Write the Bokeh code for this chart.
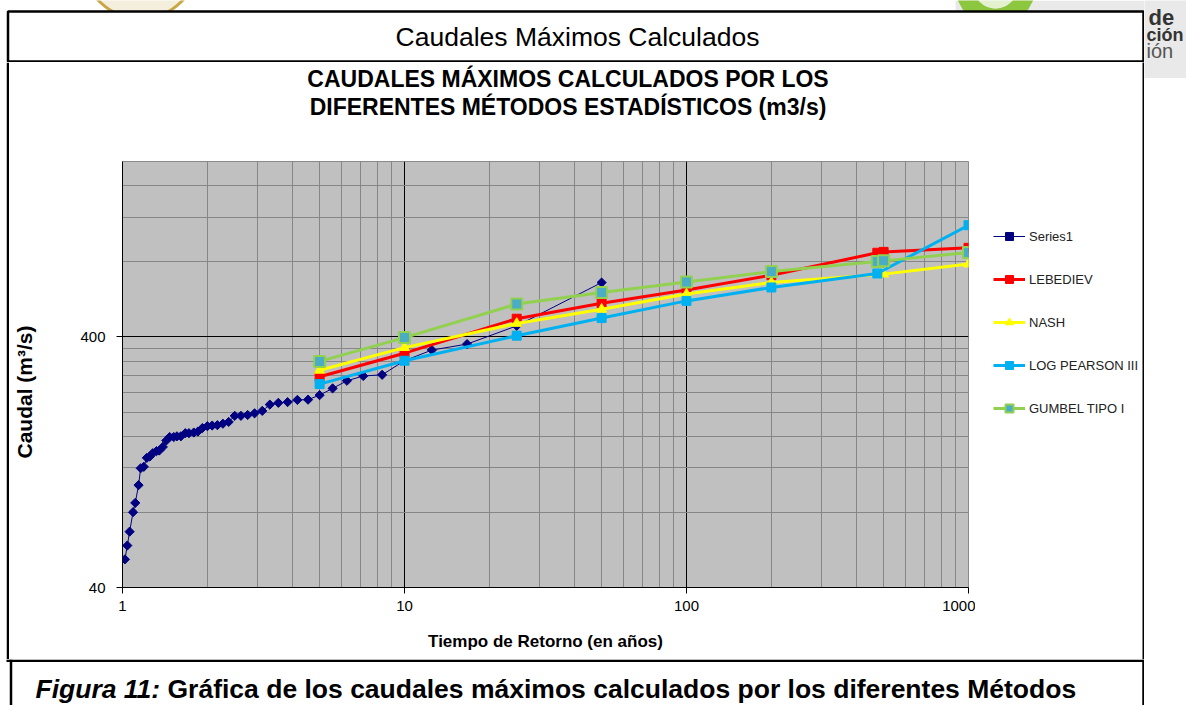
import numpy as np
from bokeh.plotting import figure
from bokeh.layouts import row, column
from bokeh.models import (FixedTicker, PrintfTickFormatter, Legend, LegendItem, Range1d)
from bokeh.core.properties import value
from bokeh.embed import file_html
from bokeh.resources import INLINE

# ---------------- data ----------------
series1_T = [50, 25, 16.67, 12.5, 10, 8.33, 7.14, 6.25, 5.56, 5.0, 4.55, 4.17, 3.85,
             3.57, 3.33, 3.13, 2.94, 2.78, 2.63, 2.5, 2.38, 2.27, 2.17, 2.08, 2.0,
             1.92, 1.85, 1.79, 1.72, 1.67, 1.61, 1.56, 1.52, 1.47, 1.43, 1.39, 1.35,
             1.32, 1.28, 1.25, 1.22, 1.19, 1.16, 1.14, 1.11, 1.09, 1.06, 1.04, 1.02]
series1_Q = [658, 442, 374, 354, 321, 282, 279, 267, 249, 234, 224.5, 224, 219.5,
             218, 214.5, 202.5, 198, 195, 193.5, 193.5, 183, 180, 177.6, 177, 176,
             173, 167.4, 166, 165, 165, 160.3, 160.3, 159.3, 159.3, 154.3, 145.4, 140.7,
             139.9, 137.3, 133.2, 131.6, 121.2, 119.6, 102.4, 87.0, 79.9, 66.8, 58.8, 51.8]

lebediev_T = [5, 10, 25, 50, 100, 200, 475, 500, 1000]
lebediev_Q = [277, 344, 472, 544, 614, 704, 865, 872, 905]

nash_T = [5, 10, 25, 50, 100, 200, 500, 1000]
nash_Q = [294, 362, 452, 515, 592, 658, 711, 780]

logpearson_T = [5, 10, 25, 50, 100, 200, 475, 1000]
logpearson_Q = [259, 321, 404, 475, 556, 629, 715, 1114]

gumbel_T = [5, 10, 25, 50, 100, 200, 475, 500, 1000]
gumbel_Q = [319, 397, 540, 600, 662, 728, 798, 803, 867]

x_major = [1, 10, 100, 1000]
y_major = [40, 400]

series_names = ["Series1", "LEBEDIEV", "NASH", "LOG PEARSON III", "GUMBEL TIPO I"]

header_text = "Caudales Máximos Calculados"
title_lines = ["CAUDALES MÁXIMOS CALCULADOS POR LOS",
               "DIFERENTES MÉTODOS ESTADÍSTICOS (m3/s)"]
x_label = "Tiempo de Retorno (en años)"
y_label = "Caudal (m³/s)"
caption_a = "Figura 11:"
caption_b = "Gráfica de los caudales máximos calculados por los diferentes Métodos"
logo_words = ["de", "ción", "ión"]

FONT = "Liberation Sans"

# series styles: (line colour, line width, marker, marker size, fill, marker line, marker line width, angle)
STYLES = [
    ("#000080", 1, "square", 6.5, "#000080", "#000080", 1, np.pi / 4),
    ("#FF0000", 3, "square", 9, "#FF0000", "#FF0000", 1, 0),
    ("#FFFF00", 3, "triangle", 10, "#FFFF00", "#FFFF00", 1, 0),
    ("#00B0F0", 3, "square", 9, "#00B0F0", "#00B0F0", 1, 0),
    ("#92D050", 3, "square", 11, "#4BACC6", "#92D050", 2, 0),
]
SERIES = [(series1_T, series1_Q), (lebediev_T, lebediev_Q), (nash_T, nash_Q),
          (logpearson_T, logpearson_Q), (gumbel_T, gumbel_Q)]


def plain_fig(w, h, xr, yr, bg="white"):
    f = figure(width=w, height=h, x_range=Range1d(*xr), y_range=Range1d(*yr),
               output_backend="svg", toolbar_location=None,
               x_axis_location=None, y_axis_location=None,
               min_border=0, title_location=None)
    f.grid.visible = False
    f.outline_line_color = None
    f.background_fill_color = bg
    f.border_fill_color = bg
    return f


def txt(f, x, y, s, size, style="normal", align="center", color="black"):
    f.text(x=[x], y=[y], text=[s], text_font=value(FONT), text_font_size=size,
           text_font_style=style, text_align=align, text_baseline="middle",
           text_color=color)


def draw_series(f, xs, ys, k):
    lc, lw, mk, ms, fc, mlc, mlw, ang = STYLES[k]
    rl = f.line(xs, ys, line_color=lc, line_width=lw)
    rm = f.scatter(xs, ys, marker=mk, size=ms, angle=ang, fill_color=fc,
                   line_color=mlc, line_width=mlw)
    return [rl, rm]


# ---------------- header (page pixel coordinates, y down) ----------------
header = plain_fig(1144, 62, (0, 1144), (62, 0))
header.quad(left=[955], right=[1144], top=[0], bottom=[12], fill_color="#E9E9E9",
            line_color=None)
header.annulus(x=[995], y=[-14], inner_radius=22, outer_radius=40,
               fill_color="#8DC63F", line_color=None)
header.circle(x=[995], y=[-14], radius=22, fill_color="#E3F1CF", line_color=None)
header.circle(x=[140], y=[-40], radius=58, fill_color="#F4EEDC",
              line_color="#C9A646", line_width=3)
header.quad(left=[7.5], right=[1143], top=[11], bottom=[61], fill_color="white",
            line_color="black", line_width=2.5)
txt(header, 577, 36, header_text, "26.5px")

# ---------------- logo fragment (right of the header box) ----------------
logo = plain_fig(42, 78, (1144, 1186), (78, 0), bg="#E9E9E9")
txt(logo, 1148, 17, logo_words[0], "22px", "bold", "left", "#333333")
txt(logo, 1146, 34, logo_words[1], "18px", "bold", "left", "#333333")
txt(logo, 1146, 50, logo_words[2], "20px", "normal", "left", "#555555")

# ---------------- chart title strip ----------------
title_fig = plain_fig(1133, 93, (9, 1142), (155, 62))
txt(title_fig, 567.5, 78, title_lines[0], "23px", "bold")
txt(title_fig, 567.5, 106, title_lines[1], "23px", "bold")

# ---------------- chart ----------------
p = figure(width=966, height=504, x_axis_type="log", y_axis_type="log",
           x_range=Range1d(1, 1000), y_range=Range1d(40, 2000),
           output_backend="svg", toolbar_location=None, title_location=None,
           min_border_left=113, min_border_right=7,
           min_border_top=6, min_border_bottom=72)
p.background_fill_color = "#C0C0C0"
p.border_fill_color = "white"
p.outline_line_color = "#8a8a8a"

x_minor = [m * 10 ** e for e in range(3) for m in range(2, 10)]
y_minor = [y_major[0] * k for k in range(2, 10)] + [y_major[1] * k for k in range(2, 5)]
xt = FixedTicker(ticks=x_major, minor_ticks=x_minor)
yt = FixedTicker(ticks=y_major, minor_ticks=y_minor)
p.xaxis.ticker = xt
p.yaxis.ticker = yt
p.xgrid.ticker = xt
p.ygrid.ticker = yt
for g in (p.xgrid, p.ygrid):
    g.grid_line_color = "black"
    g.grid_line_width = 1
    g.minor_grid_line_color = "#868686"
    g.minor_grid_line_width = 1

for ax in (p.xaxis, p.yaxis):
    ax.formatter = PrintfTickFormatter(format="%d")
    ax.axis_line_color = "black"
    ax.axis_line_width = 1
    ax.major_tick_line_color = "black"
    ax.major_tick_out = 6
    ax.major_tick_in = 0
    ax.minor_tick_line_color = None
    ax.major_label_text_font = FONT
    ax.major_label_text_font_size = "15px"
    ax.major_label_text_color = "black"
    ax.axis_label_text_font = FONT
    ax.axis_label_text_font_style = "bold"
    ax.axis_label_text_color = "black"

p.xaxis.axis_label = x_label
# trailing no-break spaces move the centred vertical title a little lower, as in the original
p.yaxis.axis_label = y_label + "\u00a0" * 6
p.xaxis.axis_label_text_font_size = "17px"
p.yaxis.axis_label_text_font_size = "21px"
p.xaxis.major_label_standoff = 7
p.xaxis.axis_label_standoff = 18
p.yaxis.major_label_standoff = 11
p.yaxis.axis_label_standoff = 41

for k, (xs, ys) in enumerate(SERIES):
    draw_series(p, xs, ys, k)

# ---------------- legend panel (same series, view kept off their range) ----------------
leg_space = plain_fig(167, 53, (0, 1), (0, 1))
leg_fig = plain_fig(167, 451, (-2, -1), (-2, -1))
items = []
for k, (xs, ys) in enumerate(SERIES):
    items.append(LegendItem(label=series_names[k], renderers=draw_series(leg_fig, xs, ys, k)))
legend = Legend(items=items, location="top_left", orientation="vertical")
legend.label_text_font = FONT
legend.label_text_font_size = "13px"
legend.label_text_color = "#222222"
legend.glyph_width = 32
legend.glyph_height = 20
legend.label_height = 20
legend.spacing = 23
legend.padding = 0
legend.margin = 18
legend.label_standoff = 4
legend.border_line_color = None
legend.background_fill_alpha = 0
leg_fig.add_layout(legend)

# ---------------- chart box side borders ----------------
bar_l = plain_fig(9, 597, (0, 9), (0, 1))
bar_l.quad(left=[6.25], right=[8.75], top=[1], bottom=[0], fill_color="black",
           line_color=None)
bar_r = plain_fig(2, 597, (0, 1), (0, 1), bg="black")

# ---------------- caption ----------------
caption = plain_fig(1144, 46, (0, 1144), (705, 659))
caption.multi_line(xs=[[6, 1144], [10.5, 10.5], [1143, 1143]],
                   ys=[[660.2, 660.2], [659, 710], [659, 710]],
                   line_color="black", line_width=2.5)
txt(caption, 35, 688, caption_a, "26.5px", "bold italic", "left")
txt(caption, 167, 688, caption_b, "26.5px", "bold", "left")

chart_block = row(bar_l, column(title_fig, row(p, column(leg_space, leg_fig))), bar_r)
layout = row(column(header, chart_block, caption), logo)

open("out.html", "w").write(file_html(layout, INLINE))
